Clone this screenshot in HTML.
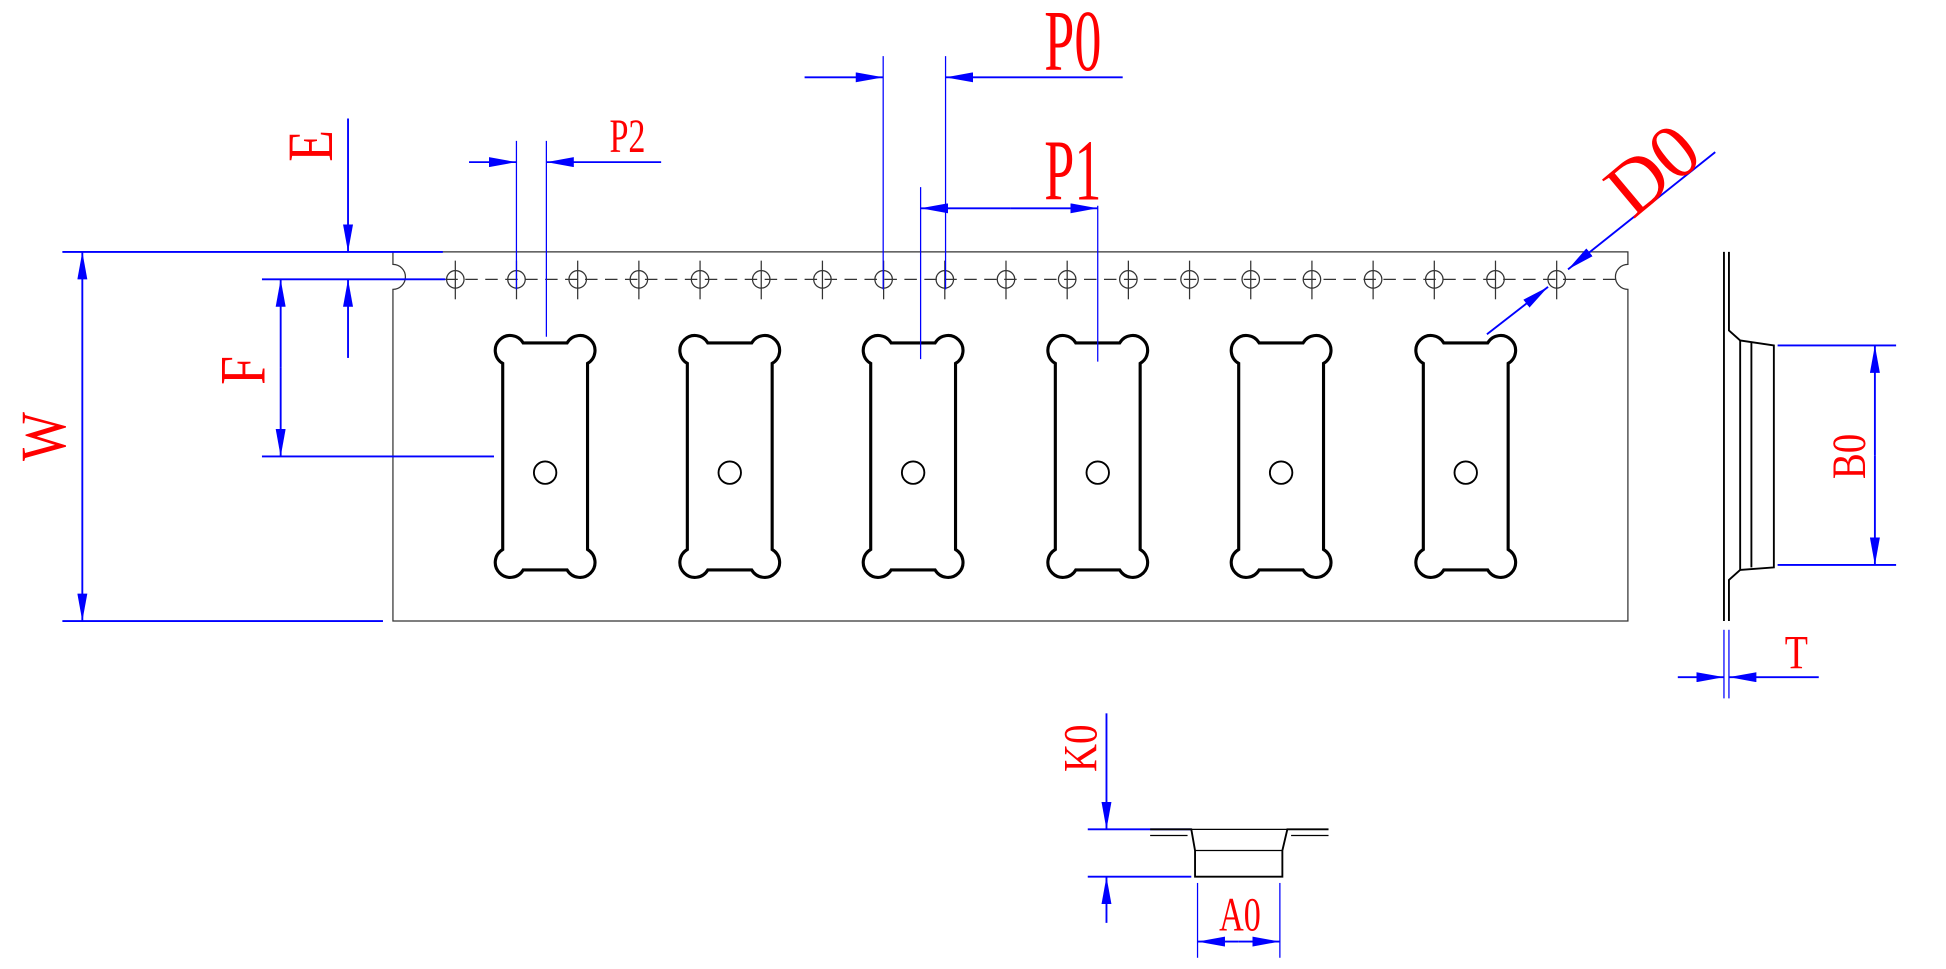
<!DOCTYPE html>
<html><head><meta charset="utf-8"><style>
html,body{margin:0;padding:0;background:#fff;width:1946px;height:969px;overflow:hidden}
svg{display:block}
text{font-family:"Liberation Serif",serif;fill:#f00}
</style></head><body>
<svg id="s" width="1946" height="969" viewBox="0 0 1560 777" preserveAspectRatio="none" xmlns="http://www.w3.org/2000/svg">
<defs>
<marker id="a" viewBox="0 0 22 8" refX="22" refY="4" markerWidth="22" markerHeight="8" orient="auto" markerUnits="userSpaceOnUse"><path d="M0,0 L22,4 L0,8 Z" fill="#00f"/></marker>
</defs>
<g id="tape" fill="none" stroke="#333" stroke-width="1">
<path d="M315,202 L1305,202 L1305,212 A6,6 0 0 0 1305,232 L1305,498 L315,498 L315,232 A6,6 0 0 0 315,212 Z"/>
<line x1="325" y1="224" x2="1298" y2="224" stroke-dasharray="10,6"/>
</g>
<g id="holes" fill="none" stroke="#333" stroke-width="1"></g>
<g id="pockets" fill="none" stroke="#000" stroke-width="2.5"></g>
<g fill="none" stroke="#00f" stroke-width="1.5">
<line x1="50" y1="202" x2="355" y2="202"/><line x1="50" y1="498" x2="307" y2="498"/>
<line x1="66" y1="350" x2="66" y2="202" marker-end="url(#a)"/><line x1="66" y1="350" x2="66" y2="498" marker-end="url(#a)"/>
<line x1="279" y1="95" x2="279" y2="202" marker-end="url(#a)"/><line x1="279" y1="287" x2="279" y2="224" marker-end="url(#a)"/>
<line x1="210" y1="224" x2="357" y2="224"/>
<line x1="225" y1="295" x2="225" y2="224" marker-end="url(#a)"/><line x1="225" y1="295" x2="225" y2="366" marker-end="url(#a)"/>
<line x1="210" y1="366" x2="396" y2="366"/>
<line x1="414" y1="113" x2="414" y2="232" stroke-width="1"/><line x1="438" y1="113" x2="438" y2="270" stroke-width="1"/>
<line x1="376" y1="130" x2="414" y2="130" marker-end="url(#a)"/><line x1="530" y1="130" x2="438" y2="130" marker-end="url(#a)"/>
<line x1="708" y1="45" x2="708" y2="232" stroke-width="1"/><line x1="758" y1="45" x2="758" y2="232" stroke-width="1"/>
<line x1="645" y1="62" x2="708" y2="62" marker-end="url(#a)"/><line x1="900" y1="62" x2="758" y2="62" marker-end="url(#a)"/>
<line x1="738" y1="150" x2="738" y2="288" stroke-width="1"/><line x1="880" y1="165" x2="880" y2="290" stroke-width="1"/>
<line x1="810" y1="167" x2="738" y2="167" marker-end="url(#a)"/><line x1="810" y1="167" x2="880" y2="167" marker-end="url(#a)"/>
<line x1="1375" y1="122" x2="1257" y2="216" marker-end="url(#a)"/>
<line x1="1192" y1="268" x2="1241" y2="230" marker-end="url(#a)"/>
<line x1="1425" y1="277" x2="1520" y2="277"/><line x1="1425" y1="453" x2="1520" y2="453"/>
<line x1="1503" y1="365" x2="1503" y2="277" marker-end="url(#a)"/><line x1="1503" y1="365" x2="1503" y2="453" marker-end="url(#a)"/>
<line x1="1382" y1="505" x2="1382" y2="560" stroke-width="1"/><line x1="1386" y1="505" x2="1386" y2="560" stroke-width="1"/>
<line x1="1345" y1="543" x2="1382" y2="543" marker-end="url(#a)"/><line x1="1458" y1="543" x2="1386" y2="543" marker-end="url(#a)"/>
<line x1="887" y1="572" x2="887" y2="665" marker-end="url(#a)"/><line x1="887" y1="740" x2="887" y2="703" marker-end="url(#a)"/>
<line x1="872" y1="665" x2="955" y2="665"/><line x1="872" y1="703" x2="955" y2="703"/>
<line x1="960" y1="708" x2="960" y2="768" stroke-width="1"/><line x1="1026" y1="708" x2="1026" y2="768" stroke-width="1"/>
<line x1="993" y1="755" x2="960" y2="755" marker-end="url(#a)"/><line x1="993" y1="755" x2="1026" y2="755" marker-end="url(#a)"/>
</g>
<g fill="none" stroke="#000" stroke-width="1.5">
<line x1="1382" y1="202" x2="1382" y2="498"/>
<path d="M1386,202 L1386,265 L1395,273 L1422,277 L1422,455 L1395,457 L1386,465 L1386,498"/>
<path d="M1395,273 L1395,457 M1404,275 L1404,455"/>
<path d="M922,665 L955,665 L958,682 L958,703 L1028,703 L1028,682 L1032,665 L1065,665"/>
<path d="M955,665 L1032,665 M958,682 L1028,682 M952,670 L922,670 M1035,670 L1065,670" stroke-width="1"/>
</g>
<text x="0" y="0" font-size="52" transform="translate(52,350) rotate(-90) scale(0.8,1)" text-anchor="middle">W</text>
<text x="0" y="0" font-size="52" transform="translate(266,117) rotate(-90) scale(0.8,1)" text-anchor="middle">E</text>
<text x="0" y="0" font-size="52" transform="translate(212,297) rotate(-90) scale(0.8,1)" text-anchor="middle">F</text>
<text x="0" y="0" font-size="38" transform="translate(503,122) scale(0.72,1)" text-anchor="middle">P2</text>
<text x="0" y="0" font-size="70" transform="translate(860,56) scale(0.62,1)" text-anchor="middle">P0</text>
<text x="0" y="0" font-size="70" transform="translate(860,160) scale(0.62,1)" text-anchor="middle">P1</text>
<text x="0" y="0" font-size="62" font-family="Liberation Sans" transform="translate(1338,152) rotate(-40)" text-anchor="middle">D0</text>
<text x="0" y="0" font-size="38" transform="translate(1495,366) rotate(-90) scale(0.82,1)" text-anchor="middle">B0</text>
<text x="0" y="0" font-size="38" transform="translate(1440,536) scale(0.8,1)" text-anchor="middle">T</text>
<text x="0" y="0" font-size="38" transform="translate(879,600) rotate(-90) scale(0.82,1)" text-anchor="middle">K0</text>
<text x="0" y="0" font-size="38" transform="translate(994,746) scale(0.72,1)" text-anchor="middle">A0</text>
</svg>
<script>
var ns="http://www.w3.org/2000/svg";
var h=document.getElementById("holes");
for(var i=0;i<19;i++){var x=365+i*49.05;
var c=document.createElementNS(ns,"circle");c.setAttribute("cx",x);c.setAttribute("cy",224);c.setAttribute("r",7);h.appendChild(c);
var l=document.createElementNS(ns,"line");l.setAttribute("x1",x);l.setAttribute("x2",x);l.setAttribute("y1",209);l.setAttribute("y2",240);h.appendChild(l);}
var p=document.getElementById("pockets");
[437,585,732,880,1027,1175].forEach(function(c){
var r=12,a=17.6,b=34;
var d="M"+(c-a)+",275 L"+(c+a)+",275 A"+r+","+r+" 0 1 1 "+(c+b)+",291.4 L"+(c+b)+",440.6 A"+r+","+r+" 0 1 1 "+(c+a)+",457 L"+(c-a)+",457 A"+r+","+r+" 0 1 1 "+(c-b)+",440.6 L"+(c-b)+",291.4 A"+r+","+r+" 0 1 1 "+(c-a)+",275 Z";
var e=document.createElementNS(ns,"path");e.setAttribute("d",d);p.appendChild(e);
var o=document.createElementNS(ns,"circle");o.setAttribute("cx",c);o.setAttribute("cy",379);o.setAttribute("r",9);o.setAttribute("stroke-width","1.5");p.appendChild(o);});
</script>
</body></html>
